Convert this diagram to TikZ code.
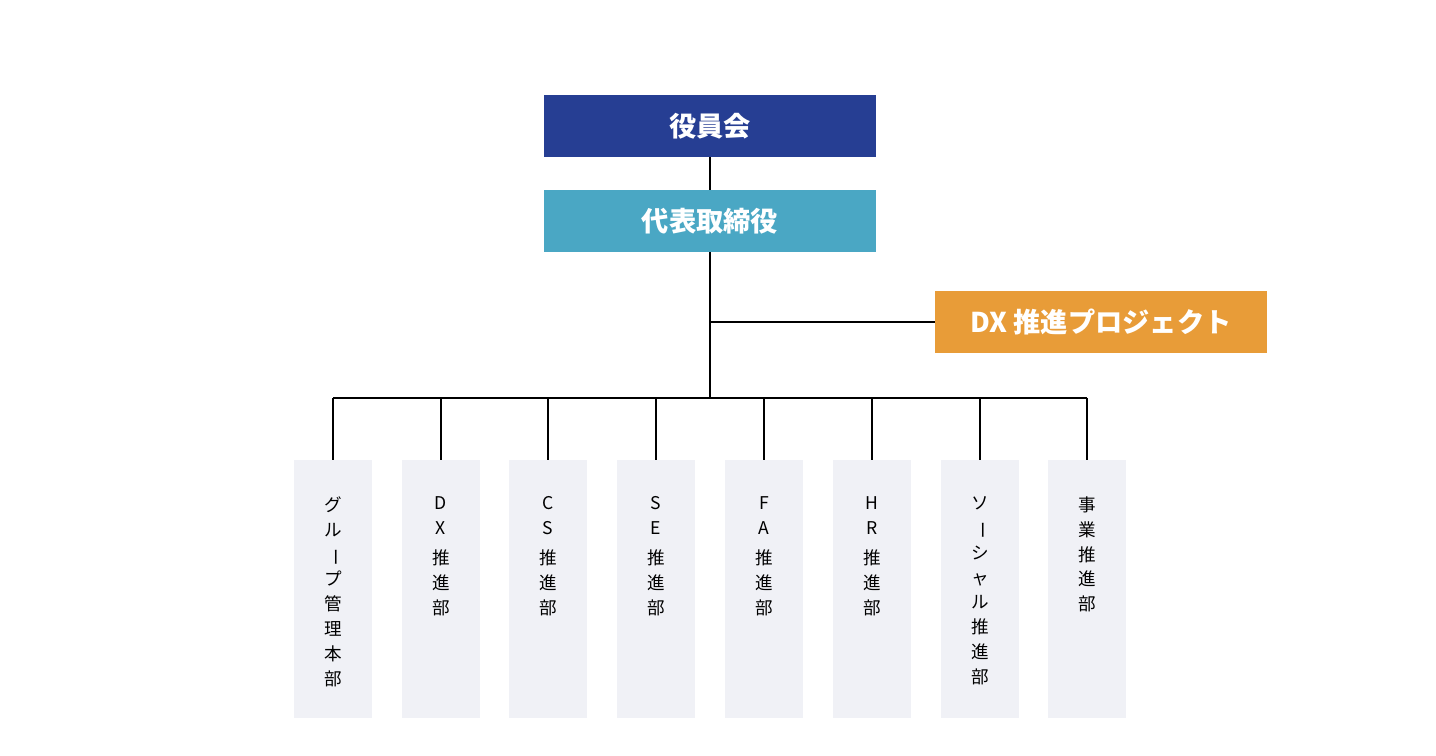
\documentclass[tikz,border=0pt]{standalone}
\usepackage{fontspec}
\usepackage{graphicx}
\newfontfamily\cjk{Noto Sans CJK JP}
\definecolor{board-blue}{HTML}{263E93}
\definecolor{ceo-cyan}{HTML}{4AA7C4}
\definecolor{dx-orange}{HTML}{E89C38}
\definecolor{dept-gray}{HTML}{F0F1F6}
\newcommand\vbar{\rotatebox[origin=c]{-90}{ー}}
\begin{document}
\begin{tikzpicture}[x=0.02cm, y=-0.02cm]
    \tikzset{
      top/.style={minimum width=6.64cm, minimum height=1.24cm, text=white, font=\cjk\bfseries\fontsize{15.5}{18}\selectfont, inner sep=0pt},
      dept/.style={fill=dept-gray, minimum width=1.56cm, minimum height=5.16cm, inner sep=0pt},
      label/.style={font=\cjk\fontsize{10}{14.2}\selectfont, align=center, anchor=north, inner sep=0pt},
      link/.style={black, line width=0.6pt}
    }
    \useasboundingbox (0,0) rectangle (1436,756);
    \node[top, fill=board-blue] (board) at (710,126) {役員会};
    \node[top, fill=ceo-cyan] (ceo) at (710,221) {代表取締役};
    \node[top, fill=dx-orange] (dxp) at (1101,322) {DX 推進プロジェクト};
    \coordinate (split) at (710,322);
    \coordinate (bus) at (710,398);
    \draw[link] (board) -- (ceo);
    \draw[link] (ceo) -- (bus);
    \draw[link] (split) -- (dxp);
    \foreach \i/\x/\txt in {
      1/333/{グ\\ル\\\vbar\\プ\\管\\理\\本\\部},
      2/441/{D\\X\\[3pt]推\\進\\部},
      3/548/{C\\S\\[3pt]推\\進\\部},
      4/656/{S\\E\\[3pt]推\\進\\部},
      5/764/{F\\A\\[3pt]推\\進\\部},
      6/872/{H\\R\\[3pt]推\\進\\部},
      7/980/{ソ\\\vbar\\シ\\ャ\\ル\\推\\進\\部},
      8/1087/{事\\業\\推\\進\\部}} {
      \node[dept] (d\i) at (\x,589) {};
      \node[label] at (\x,496) {\txt};
      \coordinate (t\i) at (\x,398);
      \draw[link] (t\i) -- (d\i);
    }
    \draw[link] (t1) -- (t8);
\end{tikzpicture}
\end{document}
